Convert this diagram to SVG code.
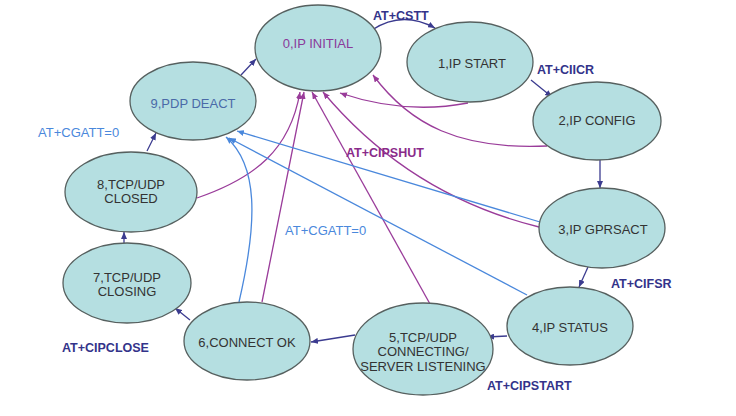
<svg xmlns="http://www.w3.org/2000/svg" width="736" height="416" viewBox="0 0 736 416">
<defs>
<marker id="an" markerUnits="userSpaceOnUse" markerWidth="7" markerHeight="6" refX="7" refY="3" orient="auto"><path d="M0,0 L7,3 L0,6 z" fill="#3b3b8f"/></marker>
<marker id="ap" markerUnits="userSpaceOnUse" markerWidth="7" markerHeight="6" refX="7" refY="3" orient="auto"><path d="M0,0 L7,3 L0,6 z" fill="#9a3c9a"/></marker>
<marker id="ab" markerUnits="userSpaceOnUse" markerWidth="7" markerHeight="6" refX="7" refY="3" orient="auto"><path d="M0,0 L7,3 L0,6 z" fill="#4a88dc"/></marker>
</defs>
<style>
.n ellipse{fill:#b5dfe1;stroke:#56605f;stroke-width:1.3}
.n text{font-family:"Liberation Sans",Arial,sans-serif;font-size:13px;fill:#333;text-anchor:middle}
.c path{fill:none;stroke-width:1.3}
.nv{stroke:#3b3b8f;marker-end:url(#an)}
.pu{stroke:#9a3c9a;marker-end:url(#ap)}
.bl{stroke:#4a88dc;marker-end:url(#ab)}
.l{font-family:"Liberation Sans",Arial,sans-serif;font-size:12.5px;font-weight:bold;fill:#33338a}
.lb{font-family:"Liberation Sans",Arial,sans-serif;font-size:13px;fill:#4a88dc}
.lp{font-family:"Liberation Sans",Arial,sans-serif;font-size:12.5px;font-weight:bold;fill:#8a2a8a}
</style>
<rect width="736" height="416" fill="#fff"/>
<g class="c">
<path class="nv" d="M372,30 Q402,10 435,28"/>
<path class="nv" d="M531,80 L552,97"/>
<path class="nv" d="M600,160 L600,188"/>
<path class="nv" d="M588,267 L579,287"/>
<path class="nv" d="M507,336 L487,337"/>
<path class="nv" d="M355,335 L311,342"/>
<path class="nv" d="M190,320 L175,308"/>
<path class="nv" d="M124,243 L124,232"/>
<path class="nv" d="M147,151 L156,133"/>
<path class="nv" d="M241,75 L256,59"/>
<path class="pu" d="M468,103 Q405,115 340,93"/>
<path class="pu" d="M547,146 C460,150 410,125 373,75"/>
<path class="pu" d="M539,227 C450,205 380,160 323,92"/>
<path class="pu" d="M430,304 L312,92"/>
<path class="pu" d="M262,302 L304,92"/>
<path class="pu" d="M197,198 C255,178 290,150 300,92"/>
<path class="bl" d="M540,222 L237,131"/>
<path class="bl" d="M527,295 L229,138"/>
<path class="bl" d="M239,302 C258,220 258,165 226,137"/>
</g>
<g id="n0" class="n"><ellipse cx="318" cy="48" rx="63" ry="43"/><text x="318" y="48" style="fill:#8a3a9a">0,IP INITIAL</text></g>
<g id="n1" class="n"><ellipse cx="470" cy="62" rx="63" ry="40"/><text x="472" y="68">1,IP START</text></g>
<g id="n2" class="n"><ellipse cx="597" cy="121" rx="64" ry="39"/><text x="597" y="125">2,IP CONFIG</text></g>
<g id="n3" class="n"><ellipse cx="602" cy="228" rx="63" ry="40"/><text x="603" y="234">3,IP GPRSACT</text></g>
<g id="n4" class="n"><ellipse cx="570" cy="326" rx="63" ry="39"/><text x="570" y="332">4,IP STATUS</text></g>
<g id="n5" class="n"><ellipse cx="423" cy="349" rx="70" ry="46"/><text x="423" y="342">5,TCP/UDP</text><text x="423" y="356">CONNECTING/</text><text x="423" y="371">SERVER LISTENING</text></g>
<g id="n6" class="n"><ellipse cx="247" cy="341" rx="63" ry="39"/><text x="247" y="347">6,CONNECT OK</text></g>
<g id="n7" class="n"><ellipse cx="127" cy="283" rx="64" ry="40"/><text x="127" y="282">7,TCP/UDP</text><text x="127" y="296">CLOSING</text></g>
<g id="n8" class="n"><ellipse cx="131" cy="192" rx="66" ry="40"/><text x="131" y="189">8,TCP/UDP</text><text x="131" y="203">CLOSED</text></g>
<g id="n9" class="n"><ellipse cx="193" cy="101" rx="63" ry="39"/><text x="193" y="108" style="fill:#4a6aa8">9,PDP DEACT</text></g>
<g id="labels">
<text class="l" x="373" y="20">AT+CSTT</text>
<text class="l" x="537" y="74">AT+CIICR</text>
<text class="l" x="611" y="288">AT+CIFSR</text>
<text class="l" x="487" y="390">AT+CIPSTART</text>
<text class="l" x="62" y="352">AT+CIPCLOSE</text>
<text class="lb" x="38" y="137">AT+CGATT=0</text>
<text class="lb" x="285" y="235">AT+CGATT=0</text>
<text class="lp" x="346" y="157">AT+CIPSHUT</text>
</g>
</svg>
